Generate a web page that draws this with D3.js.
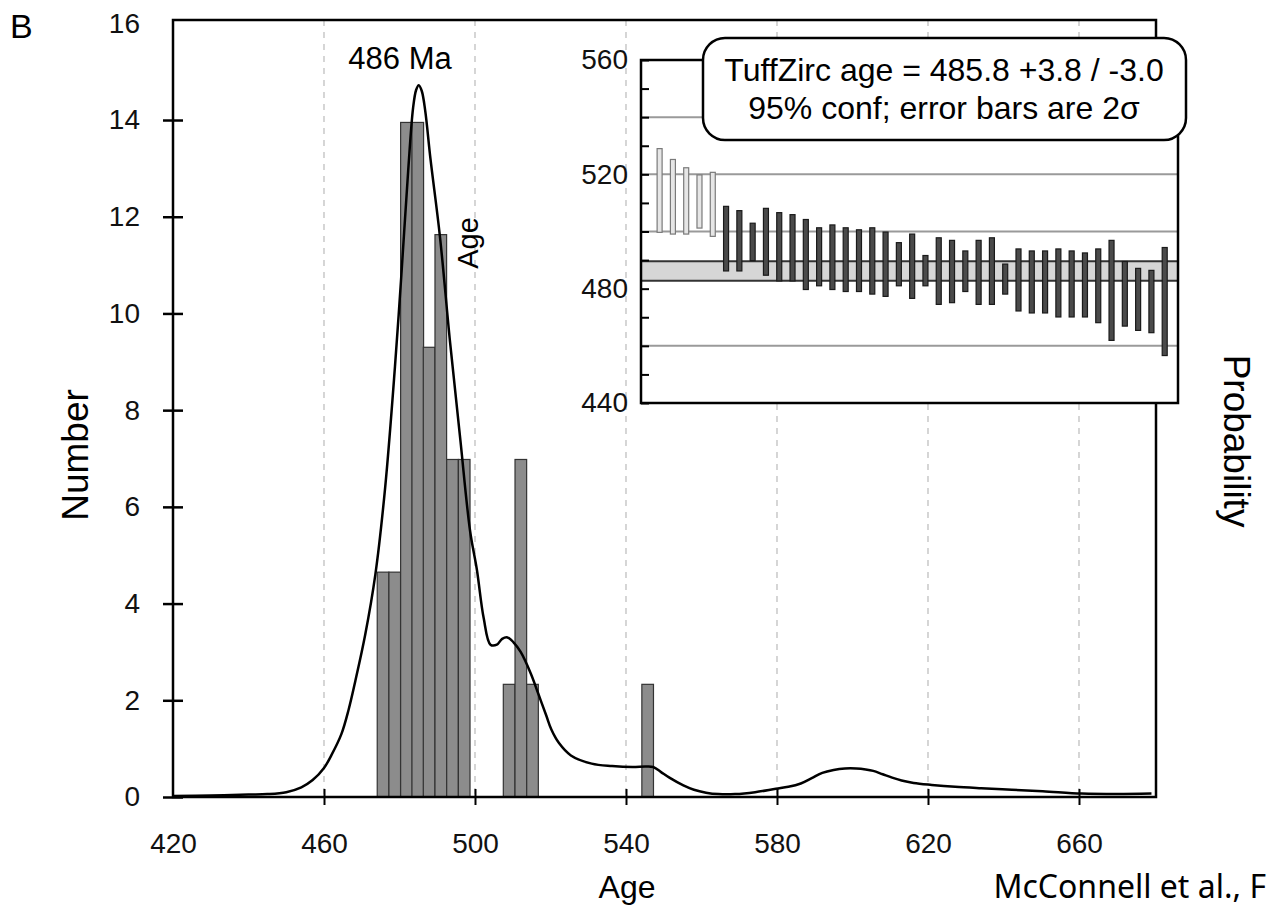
<!DOCTYPE html>
<html>
<head>
<meta charset="utf-8">
<script src="https://cdn.jsdelivr.net/npm/d3@7"></script>
<style>
  body { margin: 0; background: #fff; }
  svg { display: block; font-family: "Liberation Sans", Arial, sans-serif; }
</style>
</head>
<body>
<div id="chart"></div>
<script>
// histogram bins (start age, Ma) and bar heights (Number)
const binStart = [474.1, 477.2, 480.3, 483.3, 486.3, 489.4, 492.5, 495.6, 507.5, 510.6, 513.7, 544.2];
const binWidth = 3.08;
const binHeight = [4.65, 4.65, 13.95, 13.95, 9.3, 11.63, 6.98, 6.98, 2.33, 6.98, 2.33, 2.33];

// probability density curve (age, scaled value)
const curveAge = [420, 430, 440, 445, 450, 454, 457, 460, 462, 464.6, 466.5, 468.3, 470.9, 473.6, 476.2, 478.8, 480.5, 482.3, 483.6, 484.4, 485.1, 485.9, 486.8, 488.2, 490.7, 493.4, 496.1, 498.7, 500.5, 502.3, 504.1, 505.8, 507.2, 508.6, 510.2, 512.1, 514.8, 516.7, 518.9, 520.2, 522.2, 525.4, 530.9, 536.3, 541.7, 545.2, 547.2, 549.2, 551.5, 555.2, 558, 561.2, 564.5, 568.9, 574.2, 579.7, 583, 586.3, 589.2, 592, 595, 598, 601, 603.5, 605.5, 608, 610.5, 613, 616.2, 621, 627.2, 634.1, 642.2, 650.4, 660.7, 670.2, 679.2];
const curveVal = [0.02, 0.03, 0.05, 0.06, 0.1, 0.2, 0.35, 0.6, 0.87, 1.3, 1.8, 2.4, 3.35, 4.6, 6.4, 8.9, 10.8, 12.95, 14.25, 14.62, 14.72, 14.6, 14.2, 13.2, 11.6, 9.4, 7.4, 5.5, 4.7, 3.7, 3.15, 3.15, 3.27, 3.3, 3.2, 3.0, 2.55, 2.15, 1.68, 1.4, 1.12, 0.86, 0.69, 0.64, 0.62, 0.63, 0.62, 0.52, 0.4, 0.24, 0.15, 0.09, 0.06, 0.06, 0.1, 0.17, 0.21, 0.28, 0.39, 0.5, 0.56, 0.59, 0.59, 0.57, 0.54, 0.47, 0.4, 0.34, 0.29, 0.25, 0.21, 0.18, 0.15, 0.12, 0.07, 0.06, 0.07];

const xTicks = [420, 460, 500, 540, 580, 620, 660];
const yTicks = [0, 2, 4, 6, 8, 10, 12, 14, 16];

// inset: TuffZirc error bars (2 sigma), first five rejected
const zirconHi = [529.0, 525.2, 522.3, 519.8, 520.7, 508.8, 507.3, 502.9, 508.1, 506.6, 505.9, 504.2, 501.3, 502.3, 501.3, 500.6, 501.3, 499.8, 496.1, 499.1, 491.6, 497.8, 496.9, 493.2, 496.9, 497.8, 488.6, 493.9, 493.2, 493.2, 493.9, 493.2, 492.5, 493.9, 496.9, 489.5, 487.1, 486.4, 494.4];
const zirconLo = [499.7, 499.1, 499.1, 501.2, 498.3, 486.2, 486.2, 489.8, 484.7, 482.7, 482.7, 479.7, 481.0, 479.7, 479.0, 479.0, 478.1, 477.3, 481.0, 476.6, 481.0, 474.5, 475.1, 479.0, 474.5, 474.5, 478.1, 472.2, 471.5, 471.5, 470.1, 470.1, 470.1, 468.1, 461.9, 466.9, 465.4, 464.6, 456.6];
const rejected = [true, true, true, true, true];
const insetGrid = [540, 520, 500, 460];
const insetTicks = [440, 450, 460, 470, 480, 490, 500, 510, 520, 530, 540, 550, 560];
const insetLabels = [440, 480, 520, 560];
const tuffAge = 485.8, tuffPlus = 3.8, tuffMinus = 3.0;

const W = 1270, H = 915;
const svg = d3.select('#chart').append('svg').attr('width', W).attr('height', H);

const x = d3.scaleLinear().domain([420, 680.4]).range([173, 1156]);
const y = d3.scaleLinear().domain([0, 16]).range([797, 23.3]);
const plotTop = 20;

// dashed grid
svg.append('g').selectAll('line')
  .data(xTicks.slice(1))
  .enter().append('line')
  .attr('x1', d => x(d)).attr('x2', d => x(d))
  .attr('y1', plotTop).attr('y2', y(0))
  .attr('stroke', '#c8c8c8').attr('stroke-width', 1.5)
  .attr('stroke-dasharray', '6,6');

// histogram
svg.append('g').selectAll('rect')
  .data(binStart)
  .enter().append('rect')
  .attr('x', d => x(d))
  .attr('width', d => x(d + binWidth) - x(d))
  .attr('y', (d, i) => y(binHeight[i]))
  .attr('height', (d, i) => y(0) - y(binHeight[i]))
  .attr('fill', '#8c8c8c')
  .attr('stroke', '#333')
  .attr('stroke-width', 1.2);

// probability curve
const line = d3.line()
  .x(d => x(d[0]))
  .y(d => y(d[1]))
  .curve(d3.curveCatmullRom.alpha(0.5));

svg.append('path')
  .datum(curveAge.map((a, i) => [a, curveVal[i]]))
  .attr('d', line)
  .attr('fill', 'none')
  .attr('stroke', '#000')
  .attr('stroke-width', 2.5);

// axes
const yAxis = d3.axisLeft(y).tickValues(yTicks).tickSize(10).tickPadding(23);
const xAxis = d3.axisBottom(x).tickValues(xTicks).tickSize(8).tickPadding(28);

const gy = svg.append('g').attr('transform', `translate(${x(420)},0)`).call(yAxis);
const gx = svg.append('g').attr('transform', `translate(0,${y(0)})`).call(xAxis);

gy.select('.domain').remove();
gx.select('.domain').remove();
gy.selectAll('.tick line').attr('x1', 10).attr('stroke-width', 2.5)
  .attr('opacity', d => d === 16 ? 0 : 1);
gx.selectAll('.tick line').attr('y1', -8).attr('stroke-width', 2)
  .attr('opacity', d => d === 420 ? 0 : 1);
svg.selectAll('.tick text').attr('font-size', 28).attr('font-family', '"Liberation Sans", Arial, sans-serif').attr('fill', '#111');

// frame
svg.append('rect')
  .attr('x', x(420)).attr('y', plotTop)
  .attr('width', x.range()[1] - x(420)).attr('height', y(0) - plotTop)
  .attr('fill', 'none').attr('stroke', '#000').attr('stroke-width', 2.5);

// labels
svg.append('text').attr('x', 10).attr('y', 38).attr('font-size', 34).text('B');
svg.append('text').attr('x', 400).attr('y', 69).attr('font-size', 31)
  .attr('text-anchor', 'middle').text('486 Ma');
svg.append('text').attr('transform', 'translate(478,243) rotate(-90)')
  .attr('font-size', 29).attr('text-anchor', 'middle').text('Age');
svg.append('text').attr('transform', 'translate(88,455) rotate(-90)')
  .attr('font-size', 37).attr('text-anchor', 'middle').text('Number');
svg.append('text').attr('transform', 'translate(1224,441) rotate(90)')
  .attr('font-size', 37).attr('text-anchor', 'middle').text('Probability');
svg.append('text').attr('x', 627).attr('y', 898).attr('font-size', 32)
  .attr('text-anchor', 'middle').text('Age');
svg.append('text').attr('x', 1266).attr('y', 898).attr('font-size', 32)
  .attr('font-family', '"Noto Sans", sans-serif')
  .attr('text-anchor', 'end').text('McConnell et al., F');

/**
 * INSET
 */
const xi = d3.scaleLinear().domain([-0.4, 40]).range([641, 1178]);
const yi = d3.scaleLinear().domain([440, 560]).range([403, 60]);
const inset = svg.append('g');

inset.append('rect')
  .attr('x', xi(-0.4)).attr('y', yi(560))
  .attr('width', xi(40) - xi(-0.4)).attr('height', yi(440) - yi(560))
  .attr('fill', '#fff');

inset.append('g').selectAll('line')
  .data(insetGrid)
  .enter().append('line')
  .attr('x1', xi(-0.4)).attr('x2', xi(40))
  .attr('y1', d => yi(d)).attr('y2', d => yi(d))
  .attr('stroke', '#9a9a9a').attr('stroke-width', 2);

inset.append('rect')
  .attr('x', xi(-0.4)).attr('width', xi(40) - xi(-0.4))
  .attr('y', yi(tuffAge + tuffPlus))
  .attr('height', yi(tuffAge - tuffMinus) - yi(tuffAge + tuffPlus))
  .attr('fill', '#d6d6d6');

inset.append('g').selectAll('line')
  .data([tuffAge + tuffPlus, tuffAge - tuffMinus])
  .enter().append('line')
  .attr('x1', xi(-0.4)).attr('x2', xi(40))
  .attr('y1', d => yi(d)).attr('y2', d => yi(d))
  .attr('stroke', '#333').attr('stroke-width', 2);

inset.append('g').selectAll('rect')
  .data(zirconHi)
  .enter().append('rect')
  .attr('x', (d, i) => xi(i + 1) - 2.5)
  .attr('width', 5)
  .attr('y', d => yi(d))
  .attr('height', (d, i) => yi(zirconLo[i]) - yi(d))
  .attr('fill', (d, i) => rejected[i] ? '#e6e6e6' : '#4a4a4a')
  .attr('stroke', (d, i) => rejected[i] ? '#7a7a7a' : '#1a1a1a')
  .attr('stroke-width', 1.2);

const yiAxis = d3.axisLeft(yi).tickValues(insetTicks).tickSize(-8).tickFormat('');
const giAxis = inset.append('g').attr('transform', `translate(${xi(-0.4)},0)`).call(yiAxis);
giAxis.select('.domain').remove();
giAxis.selectAll('.tick line').attr('stroke-width', 2);

const yiLab = d3.axisLeft(yi).tickValues(insetLabels).tickSize(0).tickPadding(13);
const giLab = inset.append('g').attr('transform', `translate(${xi(-0.4)},0)`).call(yiLab);
giLab.select('.domain').remove();
giLab.selectAll('text').attr('font-size', 28).attr('fill', '#111')
  .attr('font-family', '"Liberation Sans", Arial, sans-serif');

inset.append('rect')
  .attr('x', xi(-0.4)).attr('y', yi(560))
  .attr('width', xi(40) - xi(-0.4)).attr('height', yi(440) - yi(560))
  .attr('fill', 'none').attr('stroke', '#000').attr('stroke-width', 2.5);

// callout box
inset.append('rect')
  .attr('x', 703).attr('y', 38).attr('width', 483).attr('height', 102)
  .attr('rx', 22).attr('ry', 22)
  .attr('fill', '#fff').attr('stroke', '#000').attr('stroke-width', 2.5);
inset.append('text').attr('x', 944).attr('y', 81).attr('font-size', 32)
  .attr('text-anchor', 'middle')
  .text(`TuffZirc age = ${tuffAge} +${tuffPlus.toFixed(1)} / -${tuffMinus.toFixed(1)}`);
inset.append('text').attr('x', 944).attr('y', 119).attr('font-size', 32)
  .attr('text-anchor', 'middle').text('95% conf; error bars are 2σ');
</script>
</body>
</html>
